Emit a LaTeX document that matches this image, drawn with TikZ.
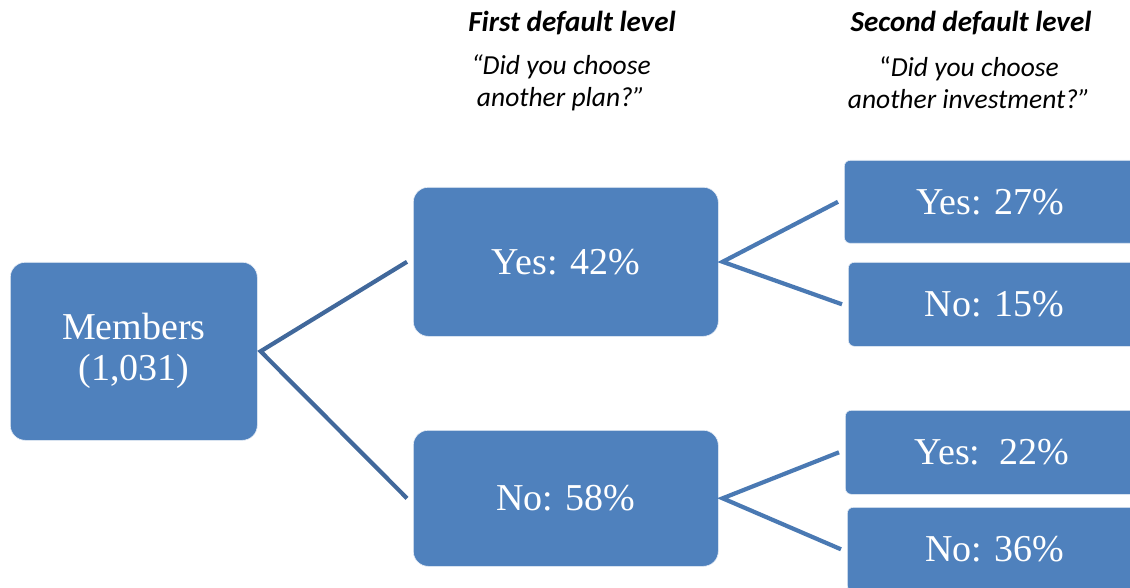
\documentclass[tikz,border=0pt]{standalone}
\usepackage{fontspec}
\setmainfont{Liberation Serif}
\newfontfamily\headfont{Carlito}
\begin{document}
\definecolor{boxblue}{HTML}{4F81BD}
\definecolor{linkdark}{HTML}{41689B}
\definecolor{linklight}{HTML}{4A79B3}
\begin{tikzpicture}[x=1pt,y=-1pt,
  bigbox/.style={fill=boxblue, draw=white!85!boxblue, line width=0.6pt,
    rounded corners=15pt, anchor=north west, inner sep=0pt,
    text=white, font=\fontsize{38}{41}\selectfont, align=center},
  smallbox/.style={bigbox, rounded corners=6pt},
  link/.style={line width=4.2pt},
  headtitle/.style={font=\headfont\bfseries\itshape\fontsize{29}{32}\selectfont},
  headquestion/.style={font=\headfont\itshape\fontsize{27.5}{32}\selectfont, align=center}
]
\useasboundingbox (0,0) rectangle (1130,588);
\clip (0,0) rectangle (1130,588);

% column headings
\node[headtitle] (h1) at (572,23) {First default level};
\node[headquestion] (q1) at (561,83) {“Did you choose\\ another plan?”};
\node[headtitle] (h2) at (971,23) {Second default level};
\node[headquestion] (q2) at (969,83) {{\upshape “}Did you choose\\ another investment?”};

% boxes of the tree
\node[bigbox, minimum width=247pt, minimum height=178pt] (mem) at (10,262) {Members\\(1,031)};
\node[bigbox, minimum width=305pt, minimum height=149pt] (y1) at (413,187) {Yes: 42\%};
\node[bigbox, minimum width=305pt, minimum height=136pt] (n1) at (413,430) {No: 58\%};
\node[smallbox, minimum width=292pt, minimum height=83pt] (y2) at (844,160) {Yes: 27\%};
\node[smallbox, minimum width=292pt, minimum height=84pt] (n2) at (848,262) {No: 15\%};
\node[smallbox, minimum width=293pt, minimum height=84pt] (y3) at (845,410) {Yes:\ \ 22\%};
\node[smallbox, minimum width=295pt, minimum height=84pt] (n3) at (847,507) {No: 36\%};

% branches
\draw[link, linkdark] (y1.west) ++(-6,0) -- ([xshift=3pt]mem.east) -- ([xshift=-6pt]n1.west);
\draw[link, linklight] ([xshift=-6pt]y2.west) -- ([xshift=4pt]y1.east) -- ([xshift=-6pt]n2.west);
\draw[link, linklight] ([xshift=-6pt]y3.west) -- ([xshift=4pt]n1.east) -- ([xshift=-6pt]n3.west);
\end{tikzpicture}
\end{document}
